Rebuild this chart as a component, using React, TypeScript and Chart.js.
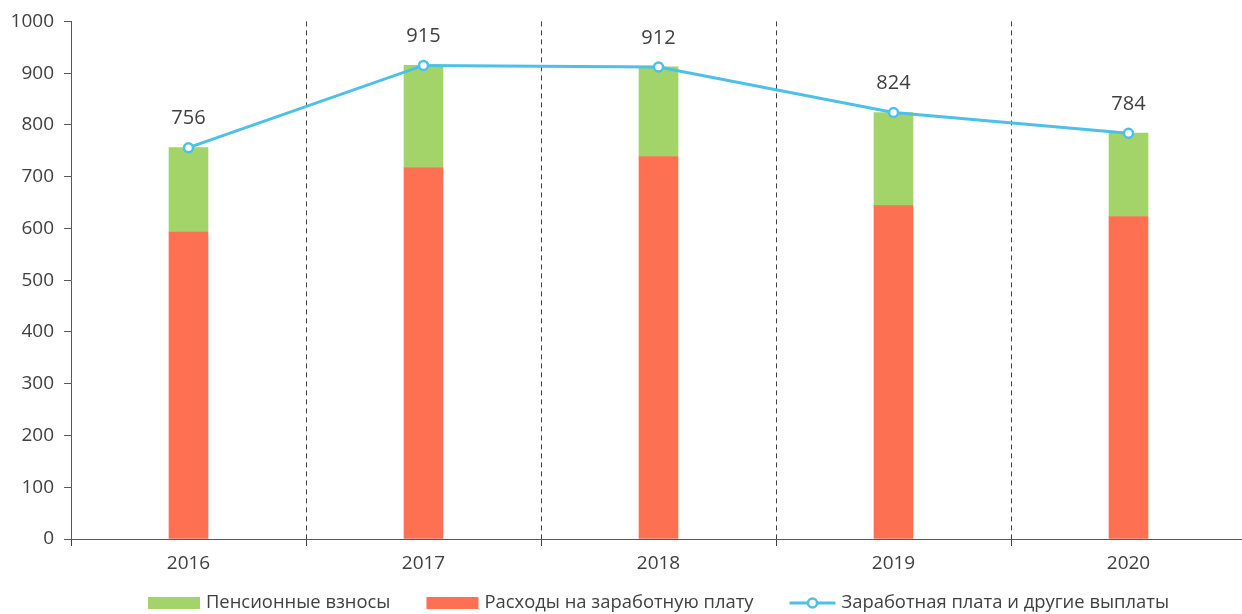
import React, { useEffect, useRef } from "react";
import { Chart, registerables } from "chart.js";

Chart.register(...registerables);

const categories = ["2016", "2017", "2018", "2019", "2020"];
const salaryExpenses = [593, 717, 739, 644, 623];
const pensionContributions = [163, 198, 173, 180, 161];
const totalPayments = [756, 915, 912, 824, 784];
const yTicks = [0, 100, 200, 300, 400, 500, 600, 700, 800, 900, 1000];

const seriesNames = ["Пенсионные взносы", "Расходы на заработную плату", "Заработная плата и другие выплаты"];

const GREEN = "#A2D46A";
const RED = "#FE7052";
const BLUE = "#4DC0E8";
const TEXT = "#404040";
const AXIS = "#595959";
const FONT = "'Open Sans', sans-serif";

const labelPlugin = {
  id: "lineLabels",
  afterDatasetsDraw(chart: any) {
    const ctx = chart.ctx;
    const meta = chart.getDatasetMeta(2);
    ctx.save();
    ctx.fillStyle = TEXT;
    ctx.font = `20px ${FONT}`;
    ctx.textAlign = "center";
    ctx.textBaseline = "middle";
    meta.data.forEach((pt: any, i: number) => {
      ctx.fillText(String(totalPayments[i]), pt.x, pt.y - 29);
    });
    ctx.restore();
  },
};

const legendPlugin = {
  id: "customLegend",
  afterDraw(chart: any) {
    const ctx = chart.ctx;
    const area = chart.chartArea;
    ctx.save();
    ctx.font = `18.4px ${FONT}`;
    const boxW = 52;
    const lineW = 46;
    const gap = 6;
    const spacing = 36;
    const widths = seriesNames.map((n) => ctx.measureText(n).width);
    const iconW = [boxW, boxW, lineW];
    let total = 0;
    widths.forEach((w, i) => {
      total += iconW[i] + gap + w;
      if (i < widths.length - 1) total += spacing;
    });
    const cx = (area.left + area.right) / 2;
    let x = cx - total / 2;
    const y = 603;
    for (let i = 0; i < 3; i++) {
      if (i < 2) {
        ctx.fillStyle = i === 0 ? GREEN : RED;
        ctx.fillRect(x, y - 6, boxW, 12);
      } else {
        ctx.strokeStyle = BLUE;
        ctx.lineWidth = 3;
        ctx.beginPath();
        ctx.moveTo(x, y);
        ctx.lineTo(x + lineW, y);
        ctx.stroke();
        ctx.fillStyle = "#fff";
        ctx.lineWidth = 2.5;
        ctx.beginPath();
        ctx.arc(x + lineW / 2, y, 4.5, 0, Math.PI * 2);
        ctx.fill();
        ctx.stroke();
      }
      x += iconW[i] + gap;
      ctx.fillStyle = TEXT;
      ctx.textAlign = "left";
      ctx.textBaseline = "middle";
      ctx.fillText(seriesNames[i], x, y);
      x += widths[i] + spacing;
    }
    ctx.restore();
  },
};

export default function App() {
  const ref = useRef<HTMLCanvasElement | null>(null);
  useEffect(() => {
    if (!ref.current) return;
    const chart = new Chart(ref.current, {
      type: "bar",
      data: {
        labels: categories,
        datasets: [
          {
            type: "bar",
            label: seriesNames[1],
            data: salaryExpenses,
            backgroundColor: RED,
            stack: "bars",
            barThickness: 39,
            order: 2,
          },
          {
            type: "bar",
            label: seriesNames[0],
            data: pensionContributions,
            backgroundColor: GREEN,
            stack: "bars",
            barThickness: 39,
            order: 2,
          },
          {
            type: "line",
            label: seriesNames[2],
            data: totalPayments,
            borderColor: BLUE,
            borderWidth: 3,
            pointRadius: 4.5,
            pointBorderWidth: 2.5,
            pointBackgroundColor: "#fff",
            pointBorderColor: BLUE,
            stack: "line",
            order: 0,
            tension: 0,
          } as any,
        ],
      },
      options: {
        responsive: false,
        animation: false,
        devicePixelRatio: 1,
        layout: { padding: { top: 20, right: 2, bottom: 40, left: 0 } },
        plugins: { legend: { display: false }, tooltip: { enabled: false } },
        scales: {
          x: {
            stacked: true,
            offset: true,
            grid: {
              display: true,
              drawOnChartArea: true,
              offset: true,
              color: "#404040",
              lineWidth: 1,
              tickLength: 7,
              tickBorderDash: [],
            } as any,
            border: { display: true, color: AXIS, width: 1, dash: [5, 4] } as any,
            ticks: { color: TEXT, font: { family: FONT, size: 19 }, padding: 6 },
            afterFit(scale: any) {
              scale.height = 35;
            },
          },
          y: {
            stacked: true,
            min: 0,
            max: 1000,
            afterBuildTicks(scale: any) {
              scale.ticks = yTicks.map((v) => ({ value: v }));
            },
            grid: { display: true, drawOnChartArea: false, color: AXIS, tickLength: 7 },
            border: { display: true, color: AXIS, width: 1 },
            ticks: {
              color: TEXT,
              font: { family: FONT, size: 19 },
              padding: 10,
              callback: (v: any) => String(v),
            },
            afterFit(scale: any) {
              scale.width = 71;
            },
          },
        },
      },
      plugins: [labelPlugin, legendPlugin],
    });
    return () => chart.destroy();
  }, []);
  return (
    <div style={{ position: "absolute", left: 0, top: 0, width: 1242, height: 614, overflow: "hidden", background: "#fff" }}>
      <canvas ref={ref} width={1253} height={614} />
    </div>
  );
}
